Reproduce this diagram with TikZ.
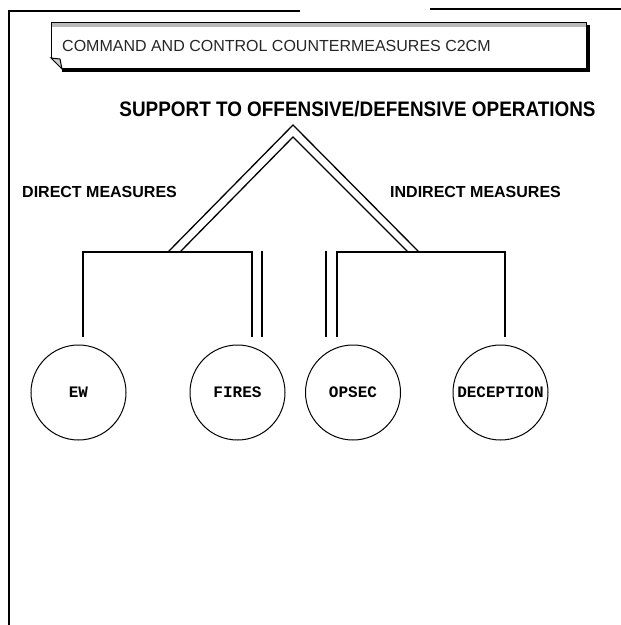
\documentclass[tikz,border=0pt]{standalone}
\usepackage{fontspec}
\setmainfont{Liberation Sans}
\newfontfamily\circfont{Liberation Mono}
\begin{document}
\begin{tikzpicture}[x=1pt,y=-1pt,
  bubble/.style={circle, draw, line width=1pt, minimum size=95pt, inner sep=0pt,
    font=\circfont\bfseries\fontsize{16}{16}\selectfont},
  wire/.style={line width=1.1pt},
  bar/.style={line width=1.5pt},
  roof/.style={line width=1.3pt, line join=miter},
  side/.style={anchor=base west, inner sep=0pt, font=\bfseries\fontsize{16}{16}\selectfont}]
\useasboundingbox (0,0) rectangle (621,625);
% outer frame
\draw[wire] (9,625) -- (9,11) -- (300,11);
\draw[wire] (430,9) -- (621,9);
% banner
\fill[gray!55] (51,22) rectangle (586,27);
\draw[line width=2.6pt] (588.5,25) -- (588.5,70.5) -- (62,70.5);
\draw[line width=0.9pt] (51,58) -- (51,22) -- (586,22) -- (586,68) -- (62,68);
\draw[line width=1pt, fill=gray!40] (51,58) -- (60,59) -- (62,69) -- cycle;
\node[anchor=base west, inner sep=0pt, text=black!85, font=\fontsize{16}{16}\selectfont] (banner) at (62,51)
  {COMMAND AND CONTROL COUNTERMEASURES C2CM};
% title
\node[anchor=base, inner sep=0pt, xscale=0.9, font=\bfseries\fontsize{21}{21}\selectfont] (title) at (357.5,116)
  {SUPPORT TO OFFENSIVE/DEFENSIVE OPERATIONS};
\node[side] (direct) at (22,197) {DIRECT MEASURES};
\node[side] (indirect) at (390,197) {INDIRECT MEASURES};
% roof coordinates
\coordinate (apexo) at (293,125);
\coordinate (apexi) at (293,137);
\coordinate (lfo) at (168,252);
\coordinate (lfi) at (180,252);
\coordinate (rfo) at (419,252);
\coordinate (rfi) at (408,252);
\draw[roof] (lfo) -- (apexo) -- (rfo);
\draw[roof] (lfi) -- (apexi) -- (rfi);
% circles
\node[bubble] (ew) at (78.5,392.5) {EW};
\node[bubble] (fires) at (237.5,392.5) {FIRES};
\node[bubble] (opsec) at (353,392.5) {OPSEC};
\node[bubble] (decep) at (500.5,392.5) {DECEPTION};
% bus coordinates
\coordinate (ewt) at (83,337);
\coordinate (lbl) at (83,252);
\coordinate (lbr) at (252,252);
\coordinate (firt) at (252,337);
\coordinate (fa) at (262,251);
\coordinate (fb) at (262,337);
\coordinate (oa) at (326,251);
\coordinate (ob) at (326,337);
\coordinate (opt) at (337,337);
\coordinate (rbl) at (337,252);
\coordinate (rbr) at (505,252);
\coordinate (dect) at (505,337);
\draw[wire] (ewt) -- (lbl) -- (lbr) -- (firt);
\draw[wire] (fa) -- (fb);
\draw[bar] (oa) -- (ob);
\draw[wire] (opt) -- (rbl) -- (rbr) -- (dect);
\end{tikzpicture}
\end{document}
